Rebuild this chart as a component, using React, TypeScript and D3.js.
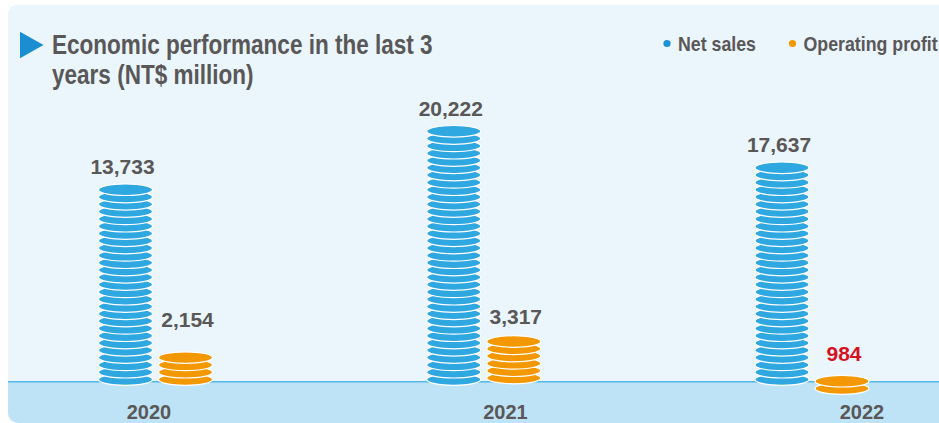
import React from 'react';
import * as d3 from 'd3';

// ---- data ----
const years = ['2020', '2021', '2022'];
const netSales = [13733, 20222, 17637];
const operatingProfit = [2154, 3317, 984];
// number of coins drawn in each stack
const netSalesCoins = [27, 35, 30];
const profitCoins = [4, 6, 2];
const legendLabels = ['Net sales', 'Operating profit'];
const titleLines = ['Economic performance in the last 3', 'years (NT$ million)'];

// ---- layout / style ----
const W = 939;
const H = 423;
const FONT = "'Liberation Sans', Arial, Helvetica, sans-serif";
const TEXT = '#595757';
const BLUE = '#2fa7e0';
const ORANGE = '#f39800';
const RED = '#d7121e';
const PANEL = '#eaf5fc';
const FLOOR = '#bfe3f6';
const FLOOR_LINE = '#55b7e7';
const COIN_RX = 27;
const COIN_RY = 5.8;
const FLOOR_Y = 381.8;
const PROFIT_LABEL_GAP = [25, 12, 14];
const PROFIT_DROP = [0, -1.5, 9];

export default function App() {
  const x = d3.scalePoint<string>().domain(years).range([155.5, 812]);
  const xLabel = d3.scalePoint<string>().domain(years).range([149, 862]);
  const offset = 30; // half distance between the two stacks of a year
  // coin index -> centre y
  const y = d3.scaleLinear().domain([0, 1]).range([379.5, 379.5 - 7.3]);
  const fmt = d3.format(',');

  const stack = (cx: number, n: number, color: string, drop: number, key: string) =>
    d3.range(n).map((i) => (
      <ellipse
        key={key + i}
        cx={cx}
        cy={y(i) + drop}
        rx={COIN_RX}
        ry={COIN_RY}
        fill={color}
        stroke="#fff"
        strokeWidth={1.2}
      />
    ));

  return (
    <svg
      width={W}
      height={H}
      style={{ position: 'absolute', left: 0, top: 0, background: '#fff' }}
      fontFamily={FONT}
    >
      <defs>
        <clipPath id="panelClip">
          <rect x={8} y={4.5} width={W + 20} height={H - 4.5} rx={10} ry={10} />
        </clipPath>
      </defs>
      <g clipPath="url(#panelClip)">
        <rect x={8} y={4.5} width={W + 20} height={H} fill={PANEL} />
        <rect x={8} y={FLOOR_Y} width={W + 20} height={H - FLOOR_Y} fill={FLOOR} />
        <line x1={8} x2={W} y1={FLOOR_Y} y2={FLOOR_Y} stroke={FLOOR_LINE} strokeWidth={1.6} />
      </g>

      {/* title */}
      <path d="M20,31.7 L20,58.3 L43.5,45 Z" fill="#1a8ed1" />
      {titleLines.map((t, i) => (
        <text
          key={t}
          transform={`translate(52,${54 + i * 30}) scale(0.805,1)`}
          fontSize={28}
          fontWeight="bold"
          fill={TEXT}
        >
          {t}
        </text>
      ))}

      {/* legend */}
      {legendLabels.map((t, i) => {
        const lx = i === 0 ? 667 : 792.5;
        return (
          <g key={t}>
            <circle cx={lx} cy={43.5} r={3.6} fill={i === 0 ? '#1a90d8' : ORANGE} />
            <text
              transform={`translate(${lx + 11},50.5) scale(0.846,1)`}
              fontSize={21}
              fontWeight="bold"
              fill={TEXT}
            >
              {t}
            </text>
          </g>
        );
      })}

      {/* stacks */}
      {years.map((yr, i) => {
        const cx = x(yr) as number;
        const bx = cx - offset;
        const ox = cx + offset;
        const bTop = y(netSalesCoins[i] - 1) - COIN_RY;
        const oTop = y(profitCoins[i] - 1) + PROFIT_DROP[i] - COIN_RY;
        return (
          <g key={yr}>
            {stack(bx, netSalesCoins[i], BLUE, 0, 'b' + yr)}
            {stack(ox, profitCoins[i], ORANGE, PROFIT_DROP[i], 'o' + yr)}
            <text
              x={bx - 3}
              y={bTop - 10}
              textAnchor="middle"
              fontSize={21}
              fontWeight="bold"
              fill={TEXT}
            >
              {fmt(netSales[i])}
            </text>
            <text
              x={ox + 2}
              y={oTop - PROFIT_LABEL_GAP[i]}
              textAnchor="middle"
              fontSize={21}
              fontWeight="bold"
              fill={i === 2 ? RED : TEXT}
            >
              {fmt(operatingProfit[i])}
            </text>
            <text
              x={xLabel(yr) as number}
              y={418.5}
              textAnchor="middle"
              fontSize={20}
              fontWeight="bold"
              fill={TEXT}
            >
              {yr}
            </text>
          </g>
        );
      })}
    </svg>
  );
}
